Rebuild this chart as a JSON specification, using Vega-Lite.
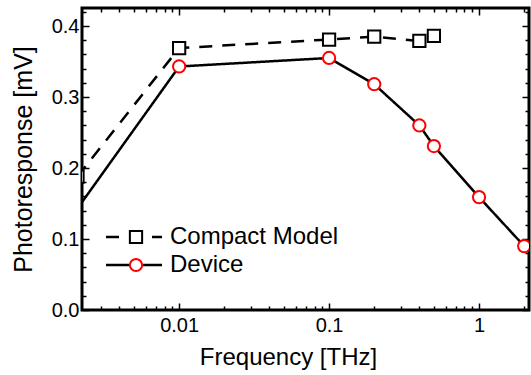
{
  "$schema": "https://vega.github.io/schema/vega-lite/v6.json",
  "autosize": "none",
  "width": 447,
  "height": 302,
  "padding": {"left": 82, "top": 8, "right": 2, "bottom": 65},
  "background": "white",
  "config": {
    "view": {"stroke": "black", "strokeWidth": 3},
    "font": "Liberation Sans",
    "axis": {
      "labelFont": "Liberation Sans",
      "titleFont": "Liberation Sans",
      "labelColor": "black",
      "titleColor": "black",
      "tickColor": "black",
      "tickWidth": 1.5,
      "domain": false,
      "grid": false,
      "labelFontSize": 20,
      "titleFontSize": 24,
      "titleFontWeight": "normal"
    }
  },
  "data": {
    "values": [
      {"freq": 0.0021, "resp": 0.188, "series": "Compact Model"},
      {"freq": 0.01, "resp": 0.369, "series": "Compact Model"},
      {"freq": 0.1, "resp": 0.381, "series": "Compact Model"},
      {"freq": 0.2, "resp": 0.385, "series": "Compact Model"},
      {"freq": 0.4, "resp": 0.379, "series": "Compact Model"},
      {"freq": 0.5, "resp": 0.386, "series": "Compact Model"},
      {"freq": 0.0015, "resp": 0.100, "series": "Device"},
      {"freq": 0.01, "resp": 0.343, "series": "Device"},
      {"freq": 0.1, "resp": 0.355, "series": "Device"},
      {"freq": 0.2, "resp": 0.318, "series": "Device"},
      {"freq": 0.4, "resp": 0.260, "series": "Device"},
      {"freq": 0.5, "resp": 0.231, "series": "Device"},
      {"freq": 1, "resp": 0.159, "series": "Device"},
      {"freq": 2, "resp": 0.090, "series": "Device"}
    ]
  },
  "resolve": {"axis": {"x": "independent", "y": "independent"}},
  "layer": [
    {
      "transform": [{"filter": "datum.series === 'Compact Model'"}],
      "mark": {"type": "line", "color": "black", "strokeWidth": 2.5, "clip": true},
      "encoding": {
        "x": {"field": "freq", "type": "quantitative",
          "scale": {"type": "log", "domain": [0.00225, 2.154], "nice": false},
          "axis": {"orient": "bottom", "values": [0.01, 0.1, 1], "format": "~g", "tickSize": -7, "labelPadding": 12, "title": "Frequency [THz]", "titlePadding": 10, "titleX": 206}},
        "y": {"field": "resp", "type": "quantitative",
          "scale": {"domain": [0, 0.4254], "nice": false, "zero": false},
          "axis": {"orient": "left", "values": [0, 0.1, 0.2, 0.3, 0.4], "format": ".1f", "tickSize": -7, "labelPadding": 10, "title": "Photoresponse [mV]", "titleFontSize": 25, "titlePadding": 15}},
        "strokeDash": {"field": "series", "type": "nominal",
          "scale": {"domain": ["Compact Model", "Device"], "range": [[13, 10], [1, 0]]},
          "legend": {"orient": "none", "legendX": 40, "legendY": 217, "title": null, "padding": 0,
            "symbolType": "M-4,0H4", "symbolSize": 196, "symbolStrokeColor": "black", "symbolStrokeWidth": 2.5, "symbolFillColor": "transparent",
            "labelFont": "Liberation Sans", "labelFontSize": 24, "labelColor": "black", "labelOffset": 24, "labelLimit": 400, "rowPadding": 4}}
      }
    },
    {
      "transform": [{"filter": "datum.series === 'Device'"}],
      "mark": {"type": "line", "color": "black", "strokeWidth": 2.5, "clip": true},
      "encoding": {
        "x": {"field": "freq", "type": "quantitative",
          "axis": {"orient": "top", "values": [0.01, 0.1, 1], "labels": false, "tickSize": -7, "title": null}},
        "y": {"field": "resp", "type": "quantitative",
          "axis": {"orient": "right", "values": [0, 0.1, 0.2, 0.3, 0.4], "labels": false, "tickSize": -7, "title": null}},
        "strokeDash": {"field": "series", "type": "nominal"}
      }
    },
    {
      "transform": [{"filter": "datum.series === 'Compact Model'"}],
      "mark": {"type": "point", "filled": true, "fill": "white", "strokeWidth": 2, "size": 150, "opacity": 1, "clip": true},
      "encoding": {
        "x": {"field": "freq", "type": "quantitative",
          "axis": {"orient": "bottom", "values": [0.003, 0.004, 0.005, 0.006, 0.007, 0.008, 0.009, 0.02, 0.03, 0.04, 0.05, 0.06, 0.07, 0.08, 0.09, 0.2, 0.3, 0.4, 0.5, 0.6, 0.7, 0.8, 0.9, 2], "labels": false, "tickSize": -4, "title": null}},
        "y": {"field": "resp", "type": "quantitative",
          "axis": {"orient": "left", "values": [0.02, 0.04, 0.06, 0.08, 0.12, 0.14, 0.16, 0.18, 0.22, 0.24, 0.26, 0.28, 0.32, 0.34, 0.36, 0.38, 0.42], "labels": false, "tickSize": -4, "title": null}},
        "shape": {"field": "series", "type": "nominal",
          "scale": {"range": ["square", "circle"]},
          "legend": {"orient": "none", "legendX": 42, "legendY": 217, "title": null, "padding": 0,
            "symbolSize": 150, "symbolStrokeWidth": 2, "symbolFillColor": "white",
            "labelFont": "Liberation Sans", "labelFontSize": 24, "labelExpr": "''", "rowPadding": 4}},
        "stroke": {"field": "series", "type": "nominal",
          "scale": {"range": ["black", "red"]},
          "legend": {"orient": "none", "legendX": 42, "legendY": 217, "title": null, "padding": 0,
            "symbolSize": 150, "symbolStrokeWidth": 2, "symbolFillColor": "white",
            "labelFont": "Liberation Sans", "labelFontSize": 24, "labelExpr": "''", "rowPadding": 4}}
      }
    },
    {
      "transform": [{"filter": "datum.series === 'Device'"}],
      "mark": {"type": "point", "filled": true, "fill": "white", "strokeWidth": 2, "size": 150, "opacity": 1, "clip": true},
      "encoding": {
        "x": {"field": "freq", "type": "quantitative",
          "axis": {"orient": "top", "values": [0.003, 0.004, 0.005, 0.006, 0.007, 0.008, 0.009, 0.02, 0.03, 0.04, 0.05, 0.06, 0.07, 0.08, 0.09, 0.2, 0.3, 0.4, 0.5, 0.6, 0.7, 0.8, 0.9, 2], "labels": false, "tickSize": -4, "title": null}},
        "y": {"field": "resp", "type": "quantitative",
          "axis": {"orient": "right", "values": [0.02, 0.04, 0.06, 0.08, 0.12, 0.14, 0.16, 0.18, 0.22, 0.24, 0.26, 0.28, 0.32, 0.34, 0.36, 0.38, 0.42], "labels": false, "tickSize": -4, "title": null}},
        "shape": {"field": "series", "type": "nominal"},
        "stroke": {"field": "series", "type": "nominal"}
      }
    }
  ]
}
